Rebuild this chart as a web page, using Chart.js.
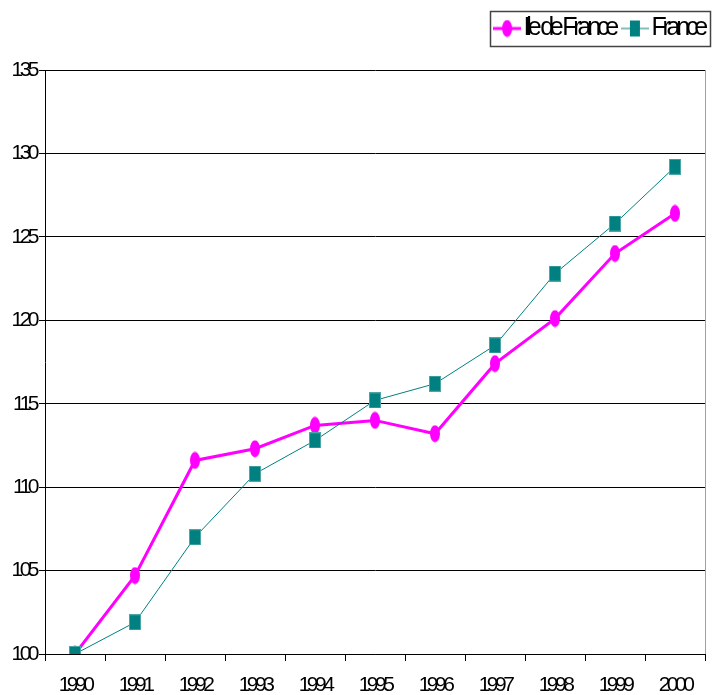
<!DOCTYPE html>
<html>
<head>
<meta charset="utf-8">
<script src="https://cdn.jsdelivr.net/npm/chart.js@4"></script>
<style>
  html, body { margin: 0; padding: 0; background: #fff; }
  canvas { display: block; }
</style>
</head>
<body>
<canvas id="myChart" width="723" height="695"></canvas>
<script>
const years = ['1990', '1991', '1992', '1993', '1994', '1995', '1996', '1997', '1998', '1999', '2000'];
const ileDeFrance = [100, 104.7, 111.6, 112.3, 113.7, 114.0, 113.2, 117.4, 120.1, 124.0, 126.4];
const france = [100, 101.9, 107.0, 110.8, 112.8, 115.2, 116.2, 118.5, 122.8, 125.8, 129.2];
const yMin = 100, yMax = 135, yStep = 5;

const MAGENTA = '#ff00ff';
const TEAL = '#008080';
const FONT = 'Liberation Sans, Arial, sans-serif';

// little canvases used as point styles (markers are taller than wide)
function marker(w, h, paint) {
    const c = document.createElement('canvas');
    c.width = w; c.height = h;
    paint(c.getContext('2d'));
    return c;
}
const ellipse = marker(12, 18, ctx => {
    ctx.fillStyle = MAGENTA;
    ctx.beginPath();
    ctx.ellipse(6, 9, 5, 8.5, 0, 0, Math.PI * 2);
    ctx.fill();
});
const square = marker(12, 16, ctx => {
    ctx.fillStyle = '#4da6a6';
    ctx.fillRect(0, 0, 12, 16);
    ctx.fillStyle = TEAL;
    ctx.fillRect(1, 1, 10, 14);
});
const legendIcons = [
    marker(28, 18, ctx => {
        ctx.strokeStyle = MAGENTA; ctx.lineWidth = 3;
        ctx.beginPath(); ctx.moveTo(0, 9); ctx.lineTo(28, 9); ctx.stroke();
        ctx.drawImage(ellipse, 8, 0);
    }),
    marker(28, 18, ctx => {
        ctx.strokeStyle = '#5aa9a9'; ctx.lineWidth = 1.5;
        ctx.beginPath(); ctx.moveTo(0, 9); ctx.lineTo(28, 9); ctx.stroke();
        ctx.fillStyle = TEAL; ctx.fillRect(9, 1, 10, 16);
    })
];

const LEGEND_DX = 15, LEGEND_DY = 0;

// narrow text everywhere, legend even narrower; legend box + right border of the plot
const condensed = {
    id: 'condensed',
    beforeInit(chart) {
        const legend = chart.legend;
        if (!legend) return;
        const fit = legend.fit, draw = legend.draw;
        legend.fit = function () {
            chart.ctx.save();
            chart.ctx.letterSpacing = '-4.2px';
            fit.call(this);
            chart.ctx.restore();
            this.height = 70;
        };
        legend.draw = function () {
            const ctx = chart.ctx;
            ctx.save();
            ctx.letterSpacing = '-4.2px';
            ctx.translate(LEGEND_DX, LEGEND_DY);
            draw.call(this);
            ctx.restore();
        };
    },
    beforeLayout(chart) { chart.ctx.letterSpacing = '-3.5px'; },
    beforeDraw(chart) { chart.ctx.letterSpacing = '-3.5px'; },
    afterDraw(chart) {
        const {ctx, chartArea} = chart;
        ctx.save();
        ctx.strokeStyle = '#a0a0a0';
        ctx.lineWidth = 1;
        ctx.beginPath();
        ctx.moveTo(Math.round(chartArea.right) + 0.5, chartArea.top);
        ctx.lineTo(Math.round(chartArea.right) + 0.5, chartArea.bottom);
        ctx.stroke();

        const boxes = chart.legend && chart.legend.legendHitBoxes;
        if (boxes && boxes.length) {
            const first = boxes[0], last = boxes[boxes.length - 1];
            const left = Math.round(first.left + LEGEND_DX - 13) + 0.5;
            const right = Math.round(last.left + last.width + LEGEND_DX + 6) + 0.5;
            const cy = first.top + LEGEND_DY + first.height / 2;
            const top = Math.round(cy - 17.5) + 0.5;
            ctx.strokeStyle = '#444';
            ctx.lineWidth = 1.5;
            ctx.strokeRect(left, top, right - left, 35);
        }
        ctx.restore();
    }
};

const data = {
    labels: years,
    datasets: [{
        label: 'Ile de France',
        data: ileDeFrance,
        borderColor: MAGENTA,
        backgroundColor: MAGENTA,
        borderWidth: 3,
        pointStyle: ellipse,
        order: 1
    }, {
        label: 'France',
        data: france,
        borderColor: TEAL,
        backgroundColor: TEAL,
        borderWidth: 1,
        pointStyle: square,
        order: 0
    }]
};

const tickFont = { family: FONT, size: 21 };

const config = {
    type: 'line',
    data: data,
    options: {
        responsive: false,
        animation: false,
        devicePixelRatio: 1,
        layout: { padding: { top: 0, left: 0, right: 18, bottom: 0 } },
        elements: { line: { tension: 0 } },
        plugins: {
            tooltip: { enabled: false },
            legend: {
                position: 'top',
                align: 'end',
                reverse: true,
                labels: {
                    usePointStyle: true,
                    pointStyleWidth: 8,
                    padding: 16,
                    color: '#000',
                    font: { family: FONT, size: 25 },
                    generateLabels(chart) {
                        const items = Chart.defaults.plugins.legend.labels.generateLabels(chart);
                        items.forEach(it => { it.pointStyle = legendIcons[it.datasetIndex]; });
                        return items;
                    }
                }
            }
        },
        scales: {
            x: {
                offset: true,
                grid: { offset: true, drawOnChartArea: false, tickLength: 7, color: '#000' },
                border: { color: '#000' },
                ticks: { color: '#000', font: tickFont, padding: 12, maxRotation: 0, autoSkip: false },
                afterFit(scale) { scale.height = 41; }
            },
            y: {
                min: yMin,
                max: yMax,
                grid: { color: '#000', tickLength: 6 },
                border: { color: '#000' },
                ticks: { stepSize: yStep, color: '#000', font: tickFont, padding: 3 },
                afterFit(scale) { scale.width = 45; }
            }
        }
    },
    plugins: [condensed]
};

new Chart(document.getElementById('myChart'), config);
</script>
</body>
</html>
